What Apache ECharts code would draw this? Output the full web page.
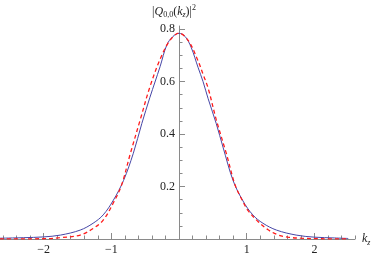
<!DOCTYPE html>
<html>
<head>
<meta charset="utf-8">
<script src="https://cdn.jsdelivr.net/npm/echarts@6/dist/echarts.min.js"></script>
<style>html,body{margin:0;padding:0;background:#fff}#c{width:375px;height:256px}</style>
</head>
<body>
<div id="c"></div>
<script>
// k_z sample positions and |Q|^2 values
const blueK = [-2.645,-2.3,-2.0,-1.75,-1.46,-1.27,-1.12,-0.97,-0.82,-0.675,-0.55,-0.43,-0.28,-0.18,-0.09,0,0.09,0.18,0.28,0.355,0.43,0.55,0.65,0.80,0.945,1.09,1.24,1.44,1.73,2.0,2.3,2.5];
const blueV = [0.003,0.005,0.008,0.015,0.034,0.060,0.092,0.148,0.223,0.327,0.44,0.54,0.657,0.74,0.772,0.784,0.772,0.73,0.655,0.60,0.535,0.44,0.35,0.222,0.145,0.092,0.060,0.034,0.015,0.007,0.004,0.002];
const redK = [-2.645,-2.0,-1.76,-1.46,-1.27,-1.12,-0.97,-0.85,-0.72,-0.576,-0.43,-0.28,-0.14,0,0.14,0.28,0.355,0.43,0.55,0.70,0.83,0.95,1.02,1.17,1.31,1.46,1.61,1.8,2.1,2.5];
const redV = [0.0005,0.001,0.005,0.015,0.04,0.072,0.138,0.205,0.325,0.452,0.58,0.685,0.755,0.785,0.755,0.68,0.628,0.575,0.455,0.325,0.205,0.14,0.108,0.066,0.036,0.016,0.007,0.003,0.001,0.0005];
const xMajor = [-2,-1,1,2];
const xMinor = [-2.6,-2.4,-2.2,-1.8,-1.6,-1.4,-1.2,-0.8,-0.6,-0.4,-0.2,0.2,0.4,0.6,0.8,1.2,1.4,1.6,1.8,2.2,2.4,2.6];
const yMajor = [0.2,0.4,0.6,0.8];
const yMinor = [0.05,0.1,0.15,0.25,0.3,0.35,0.45,0.5,0.55,0.65,0.7,0.75];

const font = '"Liberation Serif", "DejaVu Serif", serif';
const axisCol = '#8a8a8a';
const xMin = -2.645, xMax = 2.6, yMin = 0, yMax = 0.812;
const gridW = 355;
// place the vertical axis where k_z = 0 falls inside the grid
const yOffset = -gridW * (0 - xMin) / (xMax - xMin);

const chart = echarts.init(document.getElementById('c'), null, {renderer: 'canvas'});
chart.setOption({
  animation: false,
  grid: {left: 0, top: 26, width: gridW, height: 213, containLabel: false, outerBoundsMode: 'none'},
  xAxis: [
    {
      type: 'value', min: xMin, max: xMax, position: 'bottom',
      axisLine: {onZero: false, lineStyle: {color: axisCol, width: 1}},
      axisTick: {show: true, inside: true, length: 6, customValues: xMajor, lineStyle: {color: axisCol}},
      axisLabel: {show: true, customValues: xMajor, margin: 5, color: '#222', fontFamily: font, fontSize: 12,
        formatter: v => String(v).replace('-', '\u2212')},
      splitLine: {show: false},
      name: '{k|k}{z|z}', nameLocation: 'end', nameGap: 7,
      nameTextStyle: {rich: {
        k: {fontFamily: font, fontStyle: 'italic', fontSize: 12, color: '#222'},
        z: {fontFamily: font, fontStyle: 'italic', fontSize: 8, color: '#222', padding: [7, 0, 0, 0]}
      }}
    },
    {
      type: 'value', min: xMin, max: xMax, position: 'bottom',
      axisLine: {show: false, onZero: false},
      axisTick: {show: true, inside: true, length: 3.5, customValues: xMinor, lineStyle: {color: axisCol}},
      axisLabel: {show: false},
      splitLine: {show: false}
    }
  ],
  yAxis: [
    {
      type: 'value', min: yMin, max: yMax, position: 'left', offset: yOffset,
      axisLine: {show: true, onZero: false, lineStyle: {color: axisCol, width: 1}},
      axisTick: {show: true, inside: true, length: 6, customValues: yMajor, lineStyle: {color: axisCol}},
      axisLabel: {show: true, customValues: yMajor, margin: 4, color: '#222', fontFamily: font, fontSize: 12,
        formatter: v => v.toFixed(1)},
      splitLine: {show: false},
      name: '{t||}{q|Q}{s|0,0}{t|(}{q|k}{sz|z}{t|)|}{p|2}', nameLocation: 'end', nameGap: 7,
      nameTextStyle: {align: 'center', padding: [0, 10, 0, 0], rich: {
        t: {fontFamily: font, fontSize: 12, color: '#222'},
        q: {fontFamily: font, fontStyle: 'italic', fontSize: 12, color: '#222'},
        s: {fontFamily: font, fontSize: 8, color: '#222', padding: [7, 0, 0, 0]},
        sz: {fontFamily: font, fontStyle: 'italic', fontSize: 8, color: '#222', padding: [7, 0, 0, 0]},
        p: {fontFamily: font, fontSize: 8, color: '#222', padding: [0, 0, 7, 0]}
      }}
    },
    {
      type: 'value', min: yMin, max: yMax, position: 'left', offset: yOffset,
      axisLine: {show: false, onZero: false},
      axisTick: {show: true, inside: true, length: 3.5, customValues: yMinor, lineStyle: {color: axisCol}},
      axisLabel: {show: false},
      splitLine: {show: false}
    }
  ],
  series: [
    {
      type: 'line', xAxisIndex: 0, yAxisIndex: 0, smooth: 0.35, symbol: 'none', clip: true,
      data: blueK.map((k, i) => [k, blueV[i]]),
      lineStyle: {color: '#4646a6', width: 1}
    },
    {
      type: 'line', xAxisIndex: 0, yAxisIndex: 0, smooth: 0.35, symbol: 'none', clip: true,
      data: redK.map((k, i) => [k, redV[i]]),
      lineStyle: {color: '#ff1a1a', width: 1.3, type: [4, 3]}
    }
  ]
});
</script>
</body>
</html>
